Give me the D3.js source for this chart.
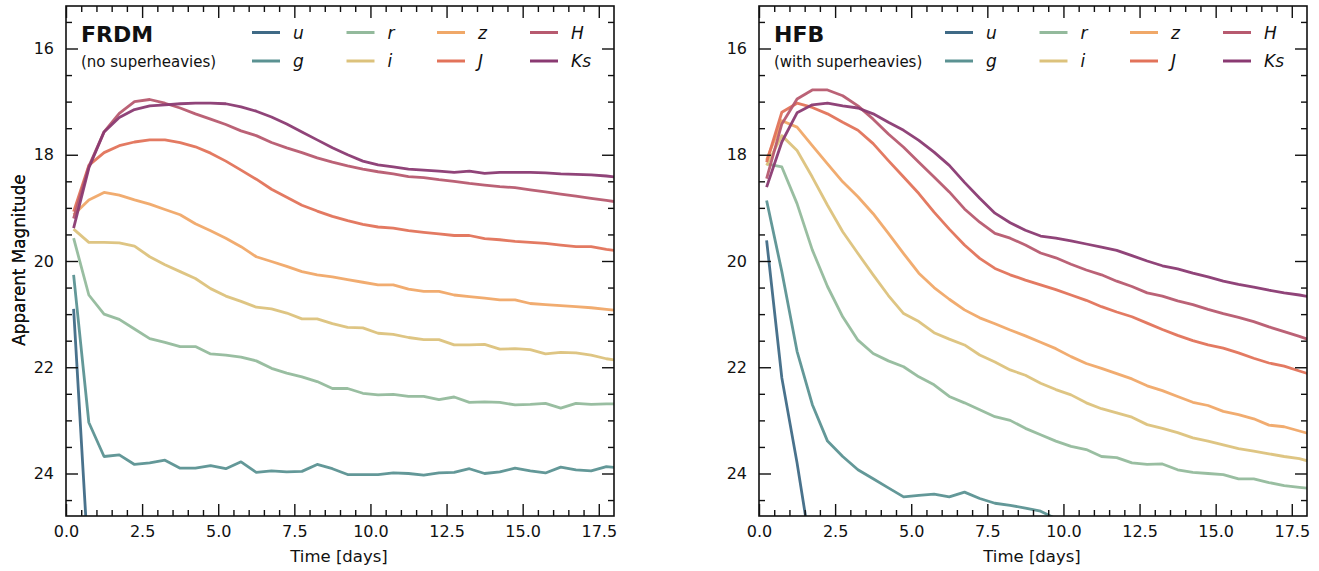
<!DOCTYPE html>
<html><head><meta charset="utf-8">
<script src="https://cdn.jsdelivr.net/npm/d3@7"></script>
<style>
body{margin:0;background:#fff}
svg{display:block}
text{font-family:"DejaVu Sans",sans-serif;fill:#111}
</style>
</head><body>
<svg id="chart" width="1319" height="571"></svg>
<script>
// ---- data ----
const times = [0.25,0.75,1.25,1.75,2.25,2.75,3.25,3.75,4.25,4.75,5.25,5.75,6.25,6.75,7.25,7.75,8.25,8.75,9.25,9.75,10.25,10.75,11.25,11.75,12.25,12.75,13.25,13.75,14.25,14.75,15.25,15.75,16.25,16.75,17.25,17.75,18.25];
const bands = ["u","g","r","i","z","J","H","Ks"];
const bandColors = ["#3f6a86","#5b9292","#93ba9c","#dcc27c","#f0a868","#e2735a","#b75a6f","#8a3a72"];
const xMajorTicks = [0,2.5,5,7.5,10,12.5,15,17.5];
const xMinorTicks = [0.5,1,1.5,2,3,3.5,4,4.5,5.5,6,6.5,7,8,8.5,9,9.5,10.5,11,11.5,12,13,13.5,14,14.5,15.5,16,16.5,17];
const yMajorTicks = [16,18,20,22,24];
const yMinorTicks = [15.5,16.5,17,17.5,18.5,19,19.5,20.5,21,21.5,22.5,23,23.5,24.5];

// FRDM (no superheavies)
const frdmU  = [20.9,25.8,27.0];
const frdmG  = [20.26,23.04,23.68,23.65,23.83,23.8,23.75,23.9,23.9,23.85,23.91,23.78,23.98,23.95,23.97,23.96,23.83,23.91,24.02,24.02,24.02,23.99,24.0,24.03,23.99,23.98,23.91,24.0,23.97,23.9,23.95,23.99,23.88,23.93,23.95,23.87,23.9];
const frdmR  = [19.57,20.64,21.0,21.1,21.28,21.46,21.53,21.61,21.61,21.75,21.77,21.81,21.88,22.02,22.11,22.18,22.27,22.4,22.4,22.49,22.52,22.51,22.55,22.55,22.61,22.56,22.66,22.65,22.66,22.71,22.7,22.68,22.77,22.68,22.7,22.69,22.69];
const frdmI  = [19.4,19.65,19.65,19.66,19.72,19.92,20.07,20.2,20.33,20.52,20.66,20.76,20.87,20.9,20.98,21.09,21.09,21.18,21.25,21.26,21.36,21.38,21.44,21.48,21.48,21.58,21.58,21.57,21.66,21.65,21.67,21.75,21.72,21.73,21.77,21.84,21.88];
const frdmZ  = [19.13,18.85,18.71,18.76,18.85,18.93,19.03,19.13,19.3,19.43,19.57,19.73,19.92,20.01,20.1,20.2,20.26,20.3,20.35,20.4,20.45,20.45,20.53,20.57,20.57,20.64,20.67,20.7,20.73,20.73,20.8,20.82,20.84,20.86,20.88,20.91,20.94];
const frdmJ  = [19.07,18.2,17.96,17.83,17.76,17.72,17.72,17.77,17.85,17.97,18.12,18.29,18.46,18.65,18.8,18.95,19.06,19.16,19.24,19.31,19.36,19.38,19.43,19.46,19.49,19.52,19.52,19.58,19.6,19.63,19.65,19.67,19.7,19.73,19.73,19.78,19.82];
const frdmH  = [19.2,18.22,17.57,17.22,17.0,16.96,17.03,17.12,17.23,17.33,17.43,17.55,17.64,17.77,17.87,17.96,18.06,18.14,18.21,18.27,18.32,18.36,18.41,18.43,18.47,18.5,18.54,18.57,18.6,18.62,18.66,18.7,18.74,18.78,18.82,18.86,18.9];
const frdmKs = [19.38,18.25,17.57,17.3,17.15,17.08,17.06,17.04,17.03,17.03,17.04,17.1,17.18,17.29,17.42,17.57,17.72,17.87,18.0,18.12,18.19,18.23,18.27,18.29,18.31,18.33,18.31,18.35,18.33,18.33,18.33,18.34,18.36,18.37,18.38,18.4,18.43];

// HFB (with superheavies)
const hfbU  = [19.61,22.2,23.8,25.6,27.0];
const hfbG  = [18.86,20.2,21.7,22.7,23.39,23.68,23.93,24.1,24.27,24.44,24.41,24.39,24.44,24.35,24.47,24.56,24.6,24.65,24.71,24.85,24.95];
const hfbR  = [18.17,18.23,18.92,19.79,20.48,21.05,21.49,21.74,21.88,21.99,22.18,22.33,22.55,22.67,22.8,22.93,23.0,23.15,23.27,23.39,23.49,23.55,23.68,23.7,23.8,23.83,23.82,23.93,23.98,24.0,24.02,24.1,24.1,24.17,24.23,24.26,24.29];
const hfbI  = [18.2,17.64,17.92,18.42,18.95,19.45,19.86,20.26,20.65,20.99,21.14,21.35,21.47,21.58,21.77,21.9,22.05,22.15,22.3,22.42,22.52,22.67,22.78,22.86,22.94,23.08,23.15,23.23,23.33,23.39,23.46,23.53,23.58,23.63,23.68,23.72,23.8];
const hfbZ  = [18.1,17.36,17.48,17.83,18.17,18.51,18.79,19.11,19.48,19.86,20.23,20.5,20.72,20.92,21.07,21.18,21.3,21.41,21.53,21.65,21.8,21.93,22.02,22.12,22.22,22.35,22.44,22.55,22.66,22.72,22.83,22.89,22.97,23.09,23.12,23.2,23.28];
const hfbJ  = [18.14,17.2,17.03,17.11,17.23,17.39,17.54,17.79,18.11,18.42,18.73,19.08,19.4,19.7,19.95,20.14,20.26,20.36,20.45,20.54,20.64,20.74,20.86,20.96,21.05,21.17,21.29,21.4,21.5,21.58,21.64,21.73,21.83,21.92,21.98,22.07,22.16];
const hfbH  = [18.45,17.42,16.95,16.78,16.78,16.89,17.08,17.33,17.61,17.86,18.14,18.42,18.7,19.02,19.27,19.48,19.57,19.7,19.85,19.94,20.06,20.17,20.26,20.38,20.48,20.6,20.66,20.75,20.82,20.91,20.99,21.06,21.14,21.24,21.33,21.42,21.52];
const hfbKs = [18.61,17.76,17.21,17.06,17.03,17.08,17.12,17.23,17.39,17.54,17.73,17.95,18.2,18.52,18.82,19.1,19.28,19.42,19.53,19.57,19.62,19.68,19.74,19.8,19.9,20.0,20.09,20.15,20.23,20.3,20.38,20.44,20.49,20.55,20.6,20.64,20.69];

// ---- drawing ----
const svg = d3.select("#chart");
const W = 548, H = 510, TOP = 6;
const FONT = "'DejaVu Sans', sans-serif";

function panel(left, id, title, subtitle, series) {
  const g = svg.append("g").attr("transform", `translate(${left},${TOP})`);
  const x = d3.scaleLinear().domain([0, 18]).range([0, W]);
  const y = d3.scaleLinear().domain([15.2, 24.8]).range([0, H]);

  g.append("clipPath").attr("id", "clip" + id)
    .append("rect").attr("width", W).attr("height", H);

  const line = d3.line().x((d, i) => x(times[i])).y(d => y(d));
  const lines = g.append("g").attr("clip-path", `url(#clip${id})`);
  series.forEach((vals, k) => {
    lines.append("path").datum(vals)
      .attr("d", line).attr("fill", "none")
      .attr("stroke", bandColors[k]).attr("stroke-width", 2.8)
      .attr("stroke-linejoin", "round").attr("stroke-opacity", 0.95);
  });

  const fmt = d3.format(".1f");
  function styleAxis(sel) {
    sel.select(".domain").remove();
    sel.selectAll(".tick line").attr("stroke", "#111").attr("stroke-width", 1.4);
    sel.selectAll(".tick text").attr("font-size", 16).attr("fill", "#111")
      .style("font-family", FONT);
  }
  // bottom
  g.append("g").attr("transform", `translate(0,${H})`)
    .call(d3.axisBottom(x).tickValues(xMajorTicks).tickSize(-12).tickPadding(10).tickFormat(fmt)).call(styleAxis);
  g.append("g").attr("transform", `translate(0,${H})`)
    .call(d3.axisBottom(x).tickValues(xMinorTicks).tickSize(-6).tickFormat("")).call(styleAxis);
  // top
  g.append("g").call(d3.axisTop(x).tickValues(xMajorTicks).tickSize(-12).tickFormat("")).call(styleAxis);
  g.append("g").call(d3.axisTop(x).tickValues(xMinorTicks).tickSize(-6).tickFormat("")).call(styleAxis);
  // left
  g.append("g").call(d3.axisLeft(y).tickValues(yMajorTicks).tickSize(-12).tickPadding(12).tickFormat(d3.format("d"))).call(styleAxis);
  g.append("g").call(d3.axisLeft(y).tickValues(yMinorTicks).tickSize(-6).tickFormat("")).call(styleAxis);
  // right
  g.append("g").attr("transform", `translate(${W},0)`)
    .call(d3.axisRight(y).tickValues(yMajorTicks).tickSize(-12).tickFormat("")).call(styleAxis);
  g.append("g").attr("transform", `translate(${W},0)`)
    .call(d3.axisRight(y).tickValues(yMinorTicks).tickSize(-6).tickFormat("")).call(styleAxis);

  g.append("rect").attr("width", W).attr("height", H)
    .attr("fill", "none").attr("stroke", "#111").attr("stroke-width", 1.6);

  // axis titles
  g.append("text").attr("x", W / 2 - 1).attr("y", 562 - TOP)
    .attr("text-anchor", "middle").attr("font-size", 16.5).text("Time [days]");
  g.append("text").attr("transform", `translate(${24.5 - left},${260 - TOP}) rotate(-90)`)
    .attr("text-anchor", "middle").attr("font-size", 16.8).text("Apparent Magnitude");

  // title block
  g.append("text").attr("x", 15).attr("y", 35.5).attr("font-size", 22).attr("font-weight", 700).text(title);
  g.append("text").attr("x", 15).attr("y", 60.5).attr("font-size", 15).text(subtitle);

  // legend
  const colX = [186, 280.5, 371, 464];
  const rowY = [26.5, 55];
  bands.forEach((b, k) => {
    const c = Math.floor(k / 2), r = k % 2;
    const lg = g.append("g").attr("transform", `translate(${colX[c]},${rowY[r]})`);
    lg.append("line").attr("x1", 0).attr("x2", 28).attr("y1", 0).attr("y2", 0)
      .attr("stroke", bandColors[k]).attr("stroke-width", 3);
    lg.append("text").attr("x", 41).attr("y", 0).attr("dy", "0.36em")
      .attr("font-size", 17).attr("font-style", "italic").text(b);
  });
}

panel(66, "a", "FRDM", "(no superheavies)", [frdmU, frdmG, frdmR, frdmI, frdmZ, frdmJ, frdmH, frdmKs]);
panel(759, "b", "HFB", "(with superheavies)", [hfbU, hfbG, hfbR, hfbI, hfbZ, hfbJ, hfbH, hfbKs]);
</script>
</body></html>
